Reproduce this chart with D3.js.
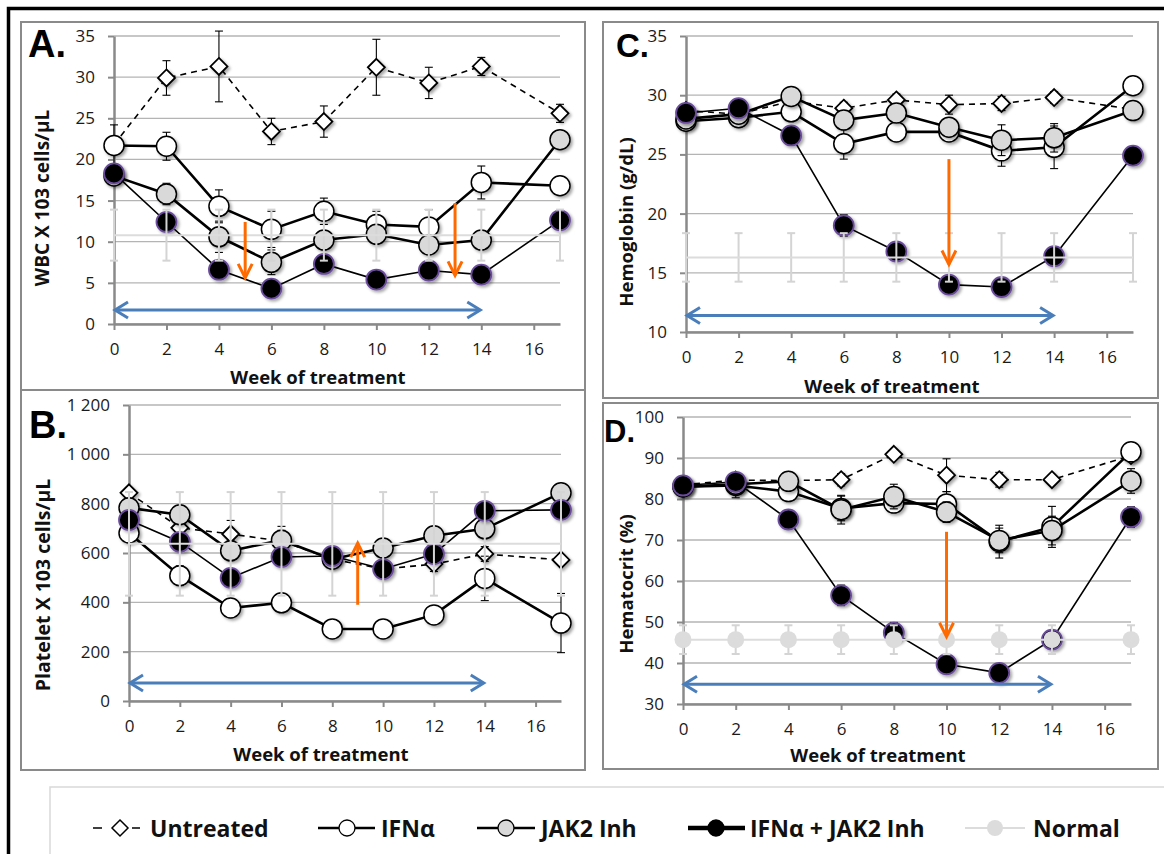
<!DOCTYPE html>
<html>
<head>
<meta charset="utf-8">
<script src="https://cdn.jsdelivr.net/npm/d3@7"></script>
<style>
  body { margin: 0; background: #fff; }
  svg { display: block; font-family: "Open Sans", sans-serif; }
</style>
</head>
<body>
<svg id="chart" width="1164" height="854"></svg>
<script>
/** shared x values */
const weeks = [0, 2, 4, 6, 8, 10, 12, 14, 17];
const weekTicks = [0, 2, 4, 6, 8, 10, 12, 14, 16];
const seriesNames = ["Untreated", "IFNα", "JAK2 Inh", "IFNα + JAK2 Inh", "Normal"];

/** A. WBC */
const wbcTicks = [0, 5, 10, 15, 20, 25, 30, 35];
const wbcUntreated = [21.8, 29.9, 31.3, 23.4, 24.6, 31.2, 29.3, 31.3, 25.6];
const wbcUntreatedErr = [2.4, 2.1, 4.3, 1.6, 1.9, 3.4, 1.9, 1.1, 1.1];
const wbcIfn = [21.7, 21.6, 14.3, 11.5, 13.7, 12.1, 11.8, 17.2, 16.8];
const wbcIfnErr = [0.6, 1.7, 2.0, 2.2, 1.6, 1.6, 2.1, 2.0, 1.0];
const wbcJak = [18.0, 15.8, 10.6, 7.5, 10.2, 10.9, 9.6, 10.2, 22.4];
const wbcJakErr = [0.8, 1.3, 1.9, 1.5, 1.0, 1.0, 0.6, 0.8, 0.5];
const wbcCombo = [18.3, 12.4, 6.6, 4.3, 7.3, 5.4, 6.5, 6.0, 12.6];
const wbcComboErr = [1.0, 0.5, 0.5, 0.5, 0.5, 0.4, 0.4, 0.4, 0.5];
const wbcNormal = [10.8, 10.8, 10.8, 10.8, 10.8, 10.8, 10.8, 10.8, 10.8];
const wbcNormalErr = [3.1, 3.1, 3.1, 3.1, 3.1, 3.1, 3.1, 3.1, 3.1];

/** B. platelets */
const pltTicks = [0, 200, 400, 600, 800, 1000, 1200];
const pltUntreated = [844, 702, 677, 648, 575, 535, 555, 596, 572];
const pltUntreatedErr = [20, 20, 55, 60, 35, 30, 30, 30, 20];
const pltIfn = [681, 508, 377, 398, 292, 292, 349, 497, 316];
const pltIfnErr = [20, 40, 20, 25, 20, 20, 25, 90, 120];
const pltJak = [783, 755, 609, 652, 575, 620, 670, 698, 844];
const pltJakErr = [20, 20, 40, 40, 30, 35, 30, 30, 30];
const pltCombo = [734, 645, 499, 584, 588, 535, 596, 771, 775];
const pltComboErr = [20, 20, 20, 25, 25, 25, 30, 30, 25];
const pltNormal = [637, 637, 637, 637, 637, 637, 637, 637, 637];
const pltNormalErr = [210, 210, 210, 210, 210, 210, 210, 210, 210];

/** C. hemoglobin */
const hgbTicks = [10, 15, 20, 25, 30, 35];
const hgbUntreated = [28.7, 28.4, 29.5, 28.9, 29.6, 29.2, 29.3, 29.8, 28.8];
const hgbUntreatedErr = [0.4, 0.5, 0.5, 0.5, 0.5, 0.8, 0.6, 0.5, 0.5];
const hgbIfn = [27.8, 28.1, 28.6, 25.9, 26.9, 26.9, 25.3, 25.6, 30.8];
const hgbIfnErr = [0.4, 0.8, 0.5, 1.3, 0.5, 0.6, 1.3, 1.8, 0.4];
const hgbJak = [28.0, 28.4, 29.9, 27.9, 28.5, 27.3, 26.2, 26.4, 28.7];
const hgbJakErr = [0.4, 0.5, 0.5, 0.5, 0.5, 0.6, 1.3, 1.2, 0.4];
const hgbCombo = [28.5, 28.9, 26.6, 19.0, 16.8, 14.0, 13.8, 16.4, 24.9];
const hgbComboErr = [0.3, 0.3, 0.3, 0.9, 0.5, 0.3, 0.3, 0.3, 0.4];
const hgbNormal = [16.3, 16.3, 16.3, 16.3, 16.3, 16.3, 16.3, 16.3, 16.3];
const hgbNormalErr = [2.05, 2.05, 2.05, 2.05, 2.05, 2.05, 2.05, 2.05, 2.05];

/** D. hematocrit */
const hctTicks = [30, 40, 50, 60, 70, 80, 90, 100];
const hctUntreated = [83.5, 84.6, 84.5, 84.7, 90.9, 85.8, 84.7, 84.7, 90.6];
const hctUntreatedErr = [1.0, 1.5, 1.0, 1.5, 0.8, 4.0, 1.8, 1.2, 1.5];
const hctIfn = [83.0, 83.3, 81.8, 77.7, 79.0, 78.8, 69.6, 73.2, 91.5];
const hctIfnErr = [1.5, 3.0, 1.5, 3.0, 2.0, 3.0, 4.0, 5.0, 2.0];
const hctJak = [83.0, 83.6, 84.3, 77.4, 80.6, 76.8, 69.9, 72.3, 84.4];
const hctJakErr = [1.0, 1.5, 1.5, 3.5, 3.0, 2.5, 3.0, 3.5, 3.0];
const hctCombo = [83.3, 84.2, 75.0, 56.5, 47.4, 39.7, 37.6, 45.7, 75.6];
const hctComboErr = [1.0, 1.0, 1.0, 2.5, 2.5, 1.0, 1.0, 1.0, 2.5];
const hctNormal = [45.7, 45.7, 45.7, 45.7, 45.7, 45.7, 45.7, 45.7, 45.7];
const hctNormalErr = [3.5, 3.5, 3.5, 3.5, 3.5, 3.5, 3.5, 3.5, 3.5];

/** treatment window (blue) and nadir markers (orange): [week, from, to] */
const blueArrows = { A: [0, 14, 1.7], B: [0, 14, 73], C: [0, 14, 11.4], D: [0, 14, 34.8] };
const orangeArrows = {
  A: [[5, 12.4, 5.6], [13, 14.7, 5.9]],
  B: [[9, 390, 640]],
  C: [[10, 24.6, 15.7]],
  D: [[10, 72, 46.4]],
};

/** series styling */
const styles = [
  { shape: "diamond", fill: "#fff", line: "#000", width: 1.6, dash: "6,5" },
  { shape: "circle", fill: "#fff", line: "#000", width: 2.6 },
  { shape: "circle", fill: "#d9d9d9", line: "#000", width: 2.6 },
  { shape: "circle", fill: "#000", line: "#000", width: 1.6, ring: "#6a4c9c" },
  { shape: "circle", fill: "#dcdcdc", line: "#dcdcdc", width: 2, normal: true },
];

const panels = [
  {
    key: "A", box: [21, 22, 564, 368], xr: [114, 560], yr: [324, 36], domain: [0, 35], ticks: wbcTicks,
    yLabel: "WBC X 103 cells/µL", yLabelPos: [42, 198], yLabelSize: 19, xLabelPos: [318, 376], letter: [28, 57, 38],
    series: [[wbcUntreated, wbcUntreatedErr], [wbcIfn, wbcIfnErr], [wbcJak, wbcJakErr], [wbcCombo, wbcComboErr], [wbcNormal, wbcNormalErr]],
    normalDots: false,
  },
  {
    key: "B", box: [21, 390, 564, 380], xr: [129, 561], yr: [701, 405], domain: [0, 1200], ticks: pltTicks,
    yLabel: "Platelet X 103 cells/µL", yLabelPos: [42, 585], yLabelSize: 19.5, xLabelPos: [321, 753], letter: [29, 438, 38],
    series: [[pltUntreated, pltUntreatedErr], [pltIfn, pltIfnErr], [pltJak, pltJakErr], [pltCombo, pltComboErr], [pltNormal, pltNormalErr]],
    normalDots: false,
  },
  {
    key: "C", box: [603, 22, 555, 376], xr: [686, 1133], yr: [332, 36], domain: [10, 35], ticks: hgbTicks,
    yLabel: "Hemoglobin (g/dL)", yLabelPos: [625, 222], yLabelSize: 18.5, xLabelPos: [892, 385], letter: [616, 57, 33],
    series: [[hgbUntreated, hgbUntreatedErr], [hgbIfn, hgbIfnErr], [hgbJak, hgbJakErr], [hgbCombo, hgbComboErr], [hgbNormal, hgbNormalErr]],
    normalDots: false,
  },
  {
    key: "D", box: [603, 403, 555, 366], xr: [683, 1131], yr: [704, 417], domain: [30, 100], ticks: hctTicks,
    yLabel: "Hematocrit (%)", yLabelPos: [625, 584], yLabelSize: 18.5, xLabelPos: [878, 754], letter: [604, 442, 31],
    series: [[hctUntreated, hctUntreatedErr], [hctIfn, hctIfnErr], [hctJak, hctJakErr], [hctCombo, hctComboErr], [hctNormal, hctNormalErr]],
    normalDots: true,
  },
];

const svg = d3.select("#chart");

/** marker drop shadow */
const defs = svg.append("defs");
defs.append("filter").attr("id", "shadow").attr("x", "-50%").attr("y", "-50%").attr("width", "200%").attr("height", "200%")
  .append("feDropShadow").attr("dx", 2).attr("dy", 2).attr("stdDeviation", 1.5)
  .attr("flood-color", "#000").attr("flood-opacity", 0.35);

/** outer frame */
svg.append("rect").attr("x", 8.5).attr("y", 8.5).attr("width", 1300).attr("height", 1000)
  .attr("fill", "none").attr("stroke", "#000").attr("stroke-width", 3.5);

const diamond = (r) => `M0,${-r}L${r},0L0,${r}L${-r},0Z`;

/** chevron arrowhead at (x, y) pointing along angle */
const chevron = (x, y, angle, len = 13, half = 8) => {
  const ca = Math.cos(angle), sa = Math.sin(angle);
  const bx = x - ca * len, by = y - sa * len;
  return `M${bx - sa * half},${by + ca * half}L${x},${y}L${bx + sa * half},${by - ca * half}`;
};

const fmt = (d) => (d >= 1000 ? d3.format(",")(d).replace(",", " ") : d);

for (const p of panels) {
  const g = svg.append("g");
  const [bx, by, bw, bh] = p.box;

  /** panel box */
  g.append("rect").attr("x", bx).attr("y", by).attr("width", bw).attr("height", bh)
    .attr("fill", "#fff").attr("stroke", "#8a8a8a").attr("stroke-width", 2);

  const x = d3.scaleLinear().domain([0, 17]).range(p.xr);
  const y = d3.scaleLinear().domain(p.domain).range(p.yr);

  /** gridlines */
  g.append("g").selectAll("line").data(p.ticks).join("line")
    .attr("x1", x(0)).attr("x2", x(17)).attr("y1", (d) => y(d)).attr("y2", (d) => y(d))
    .attr("stroke", "#b4b4b4").attr("stroke-width", 1.3);

  /** axes */
  const yAxis = g.append("g").attr("transform", `translate(${x(0)},0)`)
    .call(d3.axisLeft(y).tickValues(p.ticks).tickFormat(fmt).tickSize(6).tickSizeOuter(0).tickPadding(13));
  const xAxis = g.append("g").attr("transform", `translate(0,${y(p.domain[0])})`)
    .call(d3.axisBottom(x).tickValues(weekTicks).tickSize(6).tickSizeOuter(0).tickPadding(13));
  for (const ax of [yAxis, xAxis]) {
    ax.select(".domain").attr("stroke", "#8a8a8a").attr("stroke-width", 2.5);
    ax.selectAll(".tick line").attr("stroke", "#8a8a8a").attr("stroke-width", 2);
    ax.selectAll(".tick text").attr("font-size", 17).attr("fill", "#1a1a1a").attr("font-family", "Open Sans");
  }

  /** labels */
  g.append("text").text(p.yLabel)
    .attr("transform", `translate(${p.yLabelPos[0]},${p.yLabelPos[1]}) rotate(-90)`)
    .attr("text-anchor", "middle").attr("dominant-baseline", "central")
    .attr("font-weight", "bold").attr("font-size", p.yLabelSize).attr("fill", "#111");
  g.append("text").text("Week of treatment")
    .attr("x", p.xLabelPos[0]).attr("y", p.xLabelPos[1])
    .attr("text-anchor", "middle").attr("dominant-baseline", "central")
    .attr("font-weight", "bold").attr("font-size", 18.5).attr("fill", "#111");
  g.append("text").text(`${p.key}.`)
    .attr("x", p.letter[0]).attr("y", p.letter[1])
    .attr("font-family", "Liberation Sans, Arial, sans-serif")
    .attr("font-weight", "bold").attr("font-size", p.letter[2]).attr("fill", "#000");

  /** series */
  const line = d3.line().x((d) => x(d.w)).y((d) => y(d.v));
  p.series.forEach(([values, errs], i) => {
    const st = styles[i];
    const pts = weeks.map((w, k) => ({ w, v: values[k], e: errs[k] }));
    const sg = g.append("g");
    const errColor = st.normal ? "#d4d4d4" : "#000";
    const errWidth = st.normal ? 2 : 1.1;

    /** error bars */
    const eb = sg.append("g").selectAll("g").data(pts).join("g");
    eb.append("line").attr("x1", (d) => x(d.w)).attr("x2", (d) => x(d.w))
      .attr("y1", (d) => y(d.v - d.e)).attr("y2", (d) => y(d.v + d.e))
      .attr("stroke", errColor).attr("stroke-width", errWidth);
    for (const sgn of [-1, 1])
      eb.append("line").attr("x1", (d) => x(d.w) - 4).attr("x2", (d) => x(d.w) + 4)
        .attr("y1", (d) => y(d.v + sgn * d.e)).attr("y2", (d) => y(d.v + sgn * d.e))
        .attr("stroke", errColor).attr("stroke-width", errWidth);

    /** line */
    sg.append("path").attr("d", line(pts)).attr("fill", "none")
      .attr("stroke", st.line).attr("stroke-width", st.width)
      .attr("stroke-dasharray", st.dash || null);

    /** markers */
    if (st.normal && !p.normalDots) return;
    const mk = sg.append("g").attr("filter", st.normal ? null : "url(#shadow)");
    if (st.shape === "diamond") {
      mk.selectAll("path").data(pts).join("path")
        .attr("d", diamond(8.5)).attr("transform", (d) => `translate(${x(d.w)},${y(d.v)})`)
        .attr("fill", st.fill).attr("stroke", "#000").attr("stroke-width", 1.8);
    } else {
      mk.selectAll("circle").data(pts).join("circle")
        .attr("cx", (d) => x(d.w)).attr("cy", (d) => y(d.v)).attr("r", st.normal ? 8.5 : 10)
        .attr("fill", st.fill)
        .attr("stroke", st.normal ? "none" : st.ring || "#000")
        .attr("stroke-width", st.ring ? 1.8 : 1.5);
    }
  });

  /** blue treatment arrow */
  const [w0, w1, bv] = blueArrows[p.key];
  const ba = g.append("g").attr("stroke", "#4a7ebb").attr("stroke-width", 3).attr("fill", "none");
  ba.append("line").attr("x1", x(w0) + 2).attr("x2", x(w1) - 2).attr("y1", y(bv)).attr("y2", y(bv));
  ba.append("path").attr("d", chevron(x(w0) + 1, y(bv), Math.PI));
  ba.append("path").attr("d", chevron(x(w1) - 1, y(bv), 0));

  /** orange arrows */
  for (const [w, from, to] of orangeArrows[p.key]) {
    const oa = g.append("g").attr("stroke", "#ff6a00").attr("stroke-width", 3).attr("fill", "none");
    oa.append("line").attr("x1", x(w)).attr("x2", x(w)).attr("y1", y(from)).attr("y2", y(to));
    oa.append("path").attr("d", chevron(x(w), y(to), y(to) > y(from) ? Math.PI / 2 : -Math.PI / 2, 14, 7));
  }
}

/** legend */
const lg = svg.append("g");
lg.append("rect").attr("x", 50).attr("y", 787).attr("width", 1200).attr("height", 200)
  .attr("fill", "#fff").attr("stroke", "#d9d9d9").attr("stroke-width", 1.5);
const legendItems = [
  { x1: 93, x2: 140, cx: 120, tx: 150 },
  { x1: 318, x2: 375, cx: 347, tx: 381 },
  { x1: 477, x2: 535, cx: 506, tx: 541 },
  { x1: 688, x2: 745, cx: 716, tx: 750 },
  { x1: 965, x2: 1025, cx: 995, tx: 1033 },
];
const ly = 828;
legendItems.forEach((it, i) => {
  const st = styles[i];
  lg.append("line").attr("x1", it.x1).attr("x2", it.x2).attr("y1", ly).attr("y2", ly)
    .attr("stroke", st.line).attr("stroke-width", i === 3 ? 4.5 : st.width)
    .attr("stroke-dasharray", st.dash ? "9,30" : null);
  if (st.shape === "diamond")
    lg.append("path").attr("d", diamond(8)).attr("transform", `translate(${it.cx},${ly})`)
      .attr("fill", "#fff").attr("stroke", "#000").attr("stroke-width", 1.5);
  else
    lg.append("circle").attr("cx", it.cx).attr("cy", ly).attr("r", 8)
      .attr("fill", st.fill).attr("stroke", st.normal ? "none" : "#000").attr("stroke-width", 1.3);
  lg.append("text").text(seriesNames[i]).attr("x", it.tx).attr("y", ly)
    .attr("dominant-baseline", "central").attr("font-weight", "bold").attr("font-size", 23).attr("fill", "#111");
});
</script>
</body>
</html>
